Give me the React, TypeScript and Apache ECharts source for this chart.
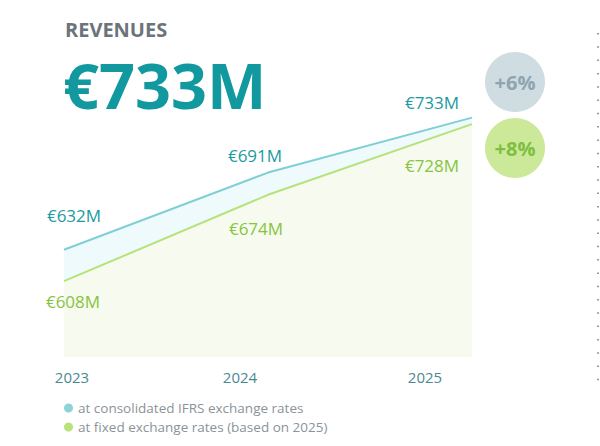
import React, { useEffect, useRef } from "react";
import * as echarts from "echarts";

const years = ["2023", "2024", "2025"];
const consolidated = [632, 691, 733];
const fixedRates = [608, 674, 728];
const consolidatedName = "at consolidated IFRS exchange rates";
const fixedName = "at fixed exchange rates (based on 2025)";
const growthConsolidated = "+6%";
const growthFixed = "+8%";
const headline = "€733M";
const title = "REVENUES";

// label offsets (layout only)
const consOffsets = [[10, -34], [-13, -17], [-40, -15]];
const fixOffsets = [[9, 20], [-12, 34], [-40, 41]];
const yearPadding = [[0, 0, 0, 16], [0, 56, 0, 0], [0, 94, 0, 0]];

const FONT = "'Open Sans', sans-serif";

export default function App() {
  const ref = useRef<HTMLDivElement>(null);
  useEffect(() => {
    if (!ref.current) return;
    const chart = echarts.init(ref.current, null, { renderer: "svg" });
    const rich: any = {};
    yearPadding.forEach((p, i) => {
      rich["y" + i] = { padding: p, fontSize: 15, color: "#4b8a91", fontFamily: FONT };
    });
    const mkData = (vals: number[], offs: number[][]) =>
      vals.map((v, i) => ({ value: v, label: { offset: offs[i] } }));
    chart.setOption({
      animation: false,
      textStyle: { fontFamily: FONT },
      grid: { left: 64, right: 128, top: 30, bottom: 89 },
      xAxis: {
        type: "category",
        data: years,
        boundaryGap: false,
        axisLine: { show: false },
        axisTick: { show: false },
        splitLine: { show: false },
        axisLabel: {
          margin: 12,
          formatter: (v: string, i: number) => `{y${i}|${v}}`,
          rich,
        },
      },
      yAxis: {
        type: "value",
        min: 550,
        max: 800,
        show: false,
        splitLine: { show: false },
      },
      legend: {
        orient: "vertical",
        left: 64,
        top: 401,
        icon: "circle",
        itemWidth: 9,
        itemHeight: 9,
        itemGap: 5,
        padding: 0,
        textStyle: { color: "#8a9399", fontSize: 13.5, fontFamily: FONT, lineHeight: 14 },
        data: [
          { name: consolidatedName, itemStyle: { color: "#8fd3d9", opacity: 1 } },
          { name: fixedName, itemStyle: { color: "#b9e27c", opacity: 1 } },
        ],
      },
      series: [
        {
          name: consolidatedName,
          type: "line",
          data: mkData(consolidated, consOffsets),
          symbol: "circle",
          symbolSize: 0,
          showSymbol: true,
          itemStyle: { color: "#8fd3d9" },
          lineStyle: { color: "#7fcfd5", width: 2 },
          areaStyle: { color: "#effafc", opacity: 1, origin: "start" },
          label: {
            show: true,
            position: "inside",
            align: "center",
            verticalAlign: "middle",
            color: "#1a9aa0",
            fontSize: 17,
            fontFamily: FONT,
            formatter: (p: any) => `€${p.value}M`,
          },
          z: 2,
        },
        {
          name: fixedName,
          type: "line",
          data: mkData(fixedRates, fixOffsets),
          symbol: "circle",
          symbolSize: 0,
          showSymbol: true,
          itemStyle: { color: "#b9e27c" },
          lineStyle: { color: "#b5e27a", width: 2 },
          areaStyle: { color: "#f7fbef", opacity: 1, origin: "start" },
          label: {
            show: true,
            position: "inside",
            align: "center",
            verticalAlign: "middle",
            color: "#86c440",
            fontSize: 17,
            fontFamily: FONT,
            formatter: (p: any) => `€${p.value}M`,
          },
          z: 3,
        },
      ],
      graphic: [
        {
          type: "text",
          left: 65,
          top: 19,
          style: { text: title, fill: "#6b747b", fontSize: 20, fontWeight: "bold", fontFamily: FONT },
        },
        {
          type: "text",
          left: 63,
          top: 53,
          style: { text: headline, fill: "#12999f", fontSize: 63, fontWeight: "bold", fontFamily: FONT },
        },
        {
          type: "circle",
          shape: { cx: 515, cy: 82, r: 30 },
          style: { fill: "#cfdce2" },
        },
        {
          type: "text",
          x: 515,
          y: 82,
          style: {
            text: growthConsolidated,
            fill: "#8ea4b0",
            fontSize: 20,
            fontWeight: "bold",
            fontFamily: FONT,
            align: "center",
            verticalAlign: "middle",
          },
        },
        {
          type: "circle",
          shape: { cx: 515, cy: 148, r: 30 },
          style: { fill: "#cce99a" },
        },
        {
          type: "text",
          x: 515,
          y: 148,
          style: {
            text: growthFixed,
            fill: "#7dbf3f",
            fontSize: 20,
            fontWeight: "bold",
            fontFamily: FONT,
            align: "center",
            verticalAlign: "middle",
          },
        },
        {
          type: "line",
          shape: { x1: 598, y1: 33, x2: 598, y2: 382 },
          style: { stroke: "#777", lineWidth: 1.5, lineDash: [1.5, 11.8] },
        },
      ],
    });
    return () => chart.dispose();
  }, []);
  return (
    <div
      ref={ref}
      style={{ position: "fixed", left: 0, top: 0, width: 600, height: 446, background: "#fff" }}
    />
  );
}
